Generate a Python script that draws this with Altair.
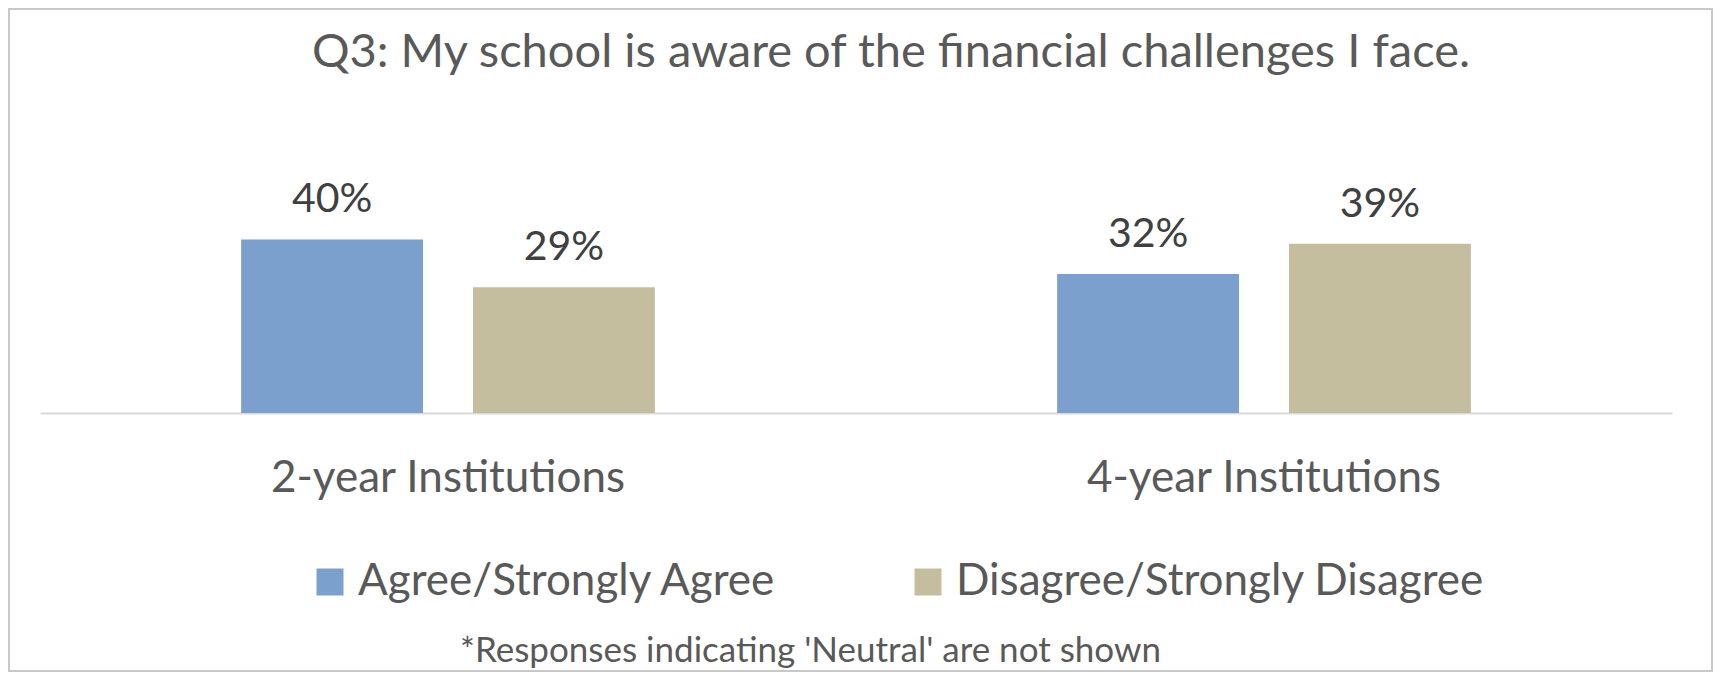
import altair as alt
import pandas as pd

institutions = ["2-year Institutions", "4-year Institutions"]
responses = ["Agree/Strongly Agree", "Disagree/Strongly Disagree"]
agree_values = [40, 32]
disagree_values = [29, 39]
colors = ["#7BA0CD", "#C4BE9F"]

rows = []
for i, inst in enumerate(institutions):
    for resp, vals in zip(responses, [agree_values, disagree_values]):
        rows.append({"institution": inst, "response": resp, "value": vals[i],
                     "label": f"{vals[i]}%"})
df = pd.DataFrame(rows)

W, H = 1632, 217
PAD = {"left": 32, "top": 188, "right": 41, "bottom": 259}
FONT = "Lato"

x_enc = alt.X(
    "institution:N", sort=institutions,
    scale=alt.Scale(paddingInner=0.493, paddingOuter=0.2465),
    axis=alt.Axis(
        title="*Responses indicating 'Neutral' are not shown",
        titleFont=FONT, titleFontSize=35, titleFontWeight="normal", titleColor="#595959",
        titleBaseline="alphabetic", titleY=248, titleX=770, titleAlign="center",
        labelFont=FONT, labelFontSize=44, labelColor="#595959", labelAngle=0,
        labelBaseline="alphabetic", labelPadding=78, labelLimit=0,
        ticks=False, tickSize=0, domainColor="#D9D9D9", domainWidth=2,
    ),
)
xoff_enc = alt.XOffset("response:N", sort=responses,
                       scale=alt.Scale(paddingInner=0.2155, paddingOuter=0))
y_enc = alt.Y("value:Q", scale=alt.Scale(domain=[0, 50]), axis=None)

bars = alt.Chart(df).mark_bar().encode(
    x=x_enc,
    xOffset=xoff_enc,
    y=y_enc,
    color=alt.Color(
        "response:N", sort=responses,
        scale=alt.Scale(domain=responses, range=colors),
        legend=alt.Legend(
            title=None, orient="none", direction="horizontal",
            legendX=268, legendY=364, padding=0,
            symbolType="square", symbolSize=729, symbolStrokeWidth=0,
            symbolOpacity=1,
            labelFont=FONT, labelFontSize=44, labelColor="#595959",
            labelOffset=6, columnPadding=129, labelLimit=0,
        ),
    ),
)

labels = alt.Chart(df).mark_text(
    baseline="alphabetic", dy=-27, font=FONT, fontSize=41, color="#404040"
).encode(
    x=x_enc, xOffset=xoff_enc, y=y_enc, text=alt.Text("label:N")
)

frame = alt.Chart(pd.DataFrame({"f": [0]})).mark_rect(
    fill=None, stroke="#C8C8C8", strokeWidth=2
).encode(
    x=alt.value(-PAD["left"] + 1), x2=alt.value(W + PAD["right"] - 1),
    y=alt.value(-PAD["top"] + 1), y2=alt.value(H + PAD["bottom"] - 1),
)

chart = alt.layer(frame, bars, labels).properties(
    width=W, height=H,
    padding=PAD,
    autosize=alt.AutoSizeParams(type="none"),
    title=alt.TitleParams(
        "Q3: My school is aware of the financial challenges I face.",
        font=FONT, fontSize=47, fontWeight="normal", color="#595959",
        anchor="middle", dx=35, offset=-69,
    ),
).configure_view(stroke=None)

chart.save("out.html", embed_options={"renderer": "svg", "actions": False})
